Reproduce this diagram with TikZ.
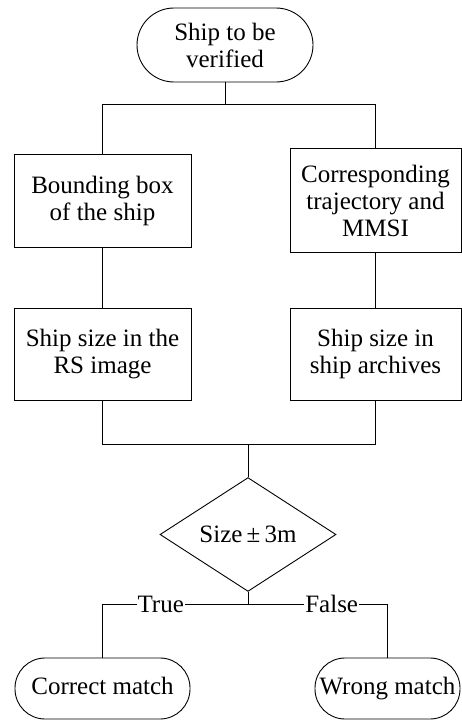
\documentclass[tikz,border=0pt]{standalone}
\usepackage{fontspec}
\setmainfont{Liberation Serif}
\usepackage{tikz}
\usetikzlibrary{arrows,positioning,shapes.geometric}
\tikzstyle{terminal}=[draw, fill=white, align=center, rounded corners=30pt, minimum height=61pt, inner sep=2pt]
\tikzstyle{block}=[draw, fill=white, align=center, minimum width=177pt, minimum height=92pt]
\tikzstyle{decision}=[draw, diamond, fill=white, align=center, minimum width=176pt, minimum height=91pt, inner sep=0pt]
\tikzstyle{branch}=[fill=white, inner sep=1pt]
\tikzstyle{oneline}=[text height=17pt, text depth=6pt]

\begin{document}
\begin{tikzpicture}[node distance=2.5cm,line width=0.9pt,font=\fontsize{25}{27}\selectfont]
        \useasboundingbox (0,0) rectangle (462pt,-720pt);
        \node [terminal] (start) at (225pt,-45pt) [minimum width=176pt,minimum height=74pt,rounded corners=37pt] {Ship to be\\verified};
        \node [block] (bbox) [below of=start,node distance=155.5pt,xshift=-122.5pt,minimum height=93pt] {Bounding box\\of the ship};
        \node [block] (traj) [right of=bbox,node distance=273pt,minimum width=171pt,minimum height=104pt] {Corresponding\\trajectory and\\MMSI};
        \node [block] (imgsize) [below of=bbox,node distance=153.5pt] {Ship size in the\\RS image};
        \node [block] (docsize) [right of=imgsize,node distance=273pt,minimum width=171pt] {Ship size in\\ship archives};
        \node [decision] (check) [below of=imgsize,node distance=180.5pt,xshift=145.5pt] {Size\,±\,3m};
        \node [terminal,oneline] (correct) [below of=check,node distance=154pt,xshift=-145.5pt,minimum width=175pt] {Correct match};
        \node [terminal,oneline] (wrong) [right of=correct,node distance=285pt,minimum width=145pt] {Wrong match};
        \coordinate [below of=start,node distance=59pt] (split);
        \coordinate [above of=check,node distance=90.5pt] (merge);
        \coordinate [below of=check,node distance=69.5pt] (fork);
        \draw (start) -- (split);
        \draw (split) -| (bbox);
        \draw (split) -| (traj);
        \draw (bbox) -- (imgsize);
        \draw (traj) -- (docsize);
        \draw (imgsize) |- (merge);
        \draw (docsize) |- (merge);
        \draw (merge) -- (check);
        \draw (check) -- (fork);
        \draw (fork) -| node [branch,pos=0.3] {True} (correct);
        \draw (fork) -| node [branch,pos=0.3] {False} (wrong);
    \end{tikzpicture}
\end{document}
